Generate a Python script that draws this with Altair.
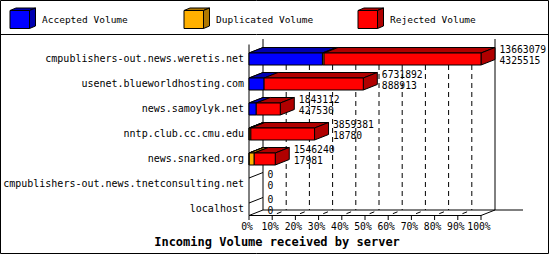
import altair as alt
import pandas as pd

# ---------------- data ----------------
servers = [
    "cmpublishers-out.news.weretis.net",
    "usenet.blueworldhosting.com",
    "news.samoylyk.net",
    "nntp.club.cc.cmu.edu",
    "news.snarked.org",
    "cmpublishers-out.news.tnetconsulting.net",
    "localhost",
]
total_volume = [13663079, 6731892, 1843112, 3859381, 1546240, 0, 0]
accepted_volume = [4325515, 888913, 427530, 18780, 17981, 0, 0]
duplicated_volume = [95000, 0, 0, 90000, 290000, 0, 0]

series_names = ["Accepted Volume", "Duplicated Volume", "Rejected Volume"]
front_colors = ["#0000FF", "#FFB000", "#FF0000"]
dark_colors = ["#0000B0", "#B07800", "#B00000"]

tick_pcts = [0, 10, 20, 30, 40, 50, 60, 70, 80, 90, 100]
tick_labels = ["0%", "10%", "20%", "30%", "40%", "50%", "60%", "70%", "80%", "90%", "100%"]
title_text = "Incoming Volume received by server"

# ---------------- layout (pixels) ----------------
W, H = 550, 255
X0_PX, PX_PER_PCT = 249, 2.32
Y0_PX, PX_PER_ROW = 59, 25
DEPTH_X_PX, DEPTH_Y_PX = 14, 5.5
BAR_HALF_PX = 6
WALL_TOP_BACK, FLOOR_BACK = 39, 210
WALL_TOP_FRONT, FLOOR_FRONT = WALL_TOP_BACK + DEPTH_Y_PX, FLOOR_BACK + DEPTH_Y_PX
GRID_TOP = 47
FONT = "DejaVu Sans Mono"


def px2x(p):
    return (p - X0_PX) / PX_PER_PCT


def py2y(p):
    return (p - Y0_PX) / PX_PER_ROW


DX = DEPTH_X_PX / PX_PER_PCT
DY = DEPTH_Y_PX / PX_PER_ROW
BH = BAR_HALF_PX / PX_PER_ROW

xs = alt.Scale(domain=[px2x(0), px2x(W)], nice=False, zero=False)
ys = alt.Scale(domain=[py2y(0), py2y(H)], nice=False, zero=False, reverse=True)


def X(f):
    return alt.X(f, type="quantitative", scale=xs, axis=None)


def Y(f):
    return alt.Y(f, type="quantitative", scale=ys, axis=None)


maxv = max(total_volume)

# bar segments
segs, tops, sides = [], [], []
for i in range(len(servers)):
    tot = total_volume[i]
    if tot <= 0:
        continue
    parts = [accepted_volume[i], duplicated_volume[i],
             tot - accepted_volume[i] - duplicated_volume[i]]
    cum = 0
    last = None
    for j, v in enumerate(parts):
        if v <= 0:
            continue
        a = cum / maxv * 100
        b = (cum + v) / maxv * 100
        cum += v
        sid = f"{i}-{j}"
        segs.append(dict(seg=sid, row=i, x0=a, x1=b, yt=i - BH, yb=i + BH,
                         front=front_colors[j], dark=dark_colors[j]))
        tops.append(dict(seg=sid, y=i - BH, xa=a, xb=b, dark=dark_colors[j]))
        tops.append(dict(seg=sid, y=i - BH - DY, xa=a + DX, xb=b + DX, dark=dark_colors[j]))
        last = (b, dark_colors[j])
    b, dc = last
    sides.append(dict(row=i, x=b, ya=i - BH, yb=i + BH, dark=dc))
    sides.append(dict(row=i, x=b + DX, ya=i - BH - DY, yb=i + BH - DY, dark=dc))

seg_df = pd.DataFrame(segs)
top_df = pd.DataFrame(tops)
side_df = pd.DataFrame(sides)

labels_df = pd.DataFrame({
    "server": servers,
    "row": list(range(len(servers))),
    "end": [t / maxv * 100 for t in total_volume],
    "l1": [str(t) for t in total_volume],
    "l2": [str(a) for a in accepted_volume],
})

# frame lines (solid)
yWTB, yWTF, yFB, yFF = py2y(WALL_TOP_BACK), py2y(WALL_TOP_FRONT), py2y(FLOOR_BACK), py2y(FLOOR_FRONT)
solid = [
    (0, yWTF, 0, yFF),
    (DX, yWTB, DX, yFB),
    (100 + DX, yWTB, 100 + DX, yFB),
    (0, yFF, 100, yFF),
    (DX, yFB, px2x(523), yFB),
    (0, yFF, DX, yFB),
    (100, yFF, 100 + DX, yFB),
]
for p in tick_pcts:
    solid.append((p, yFF, p, py2y(FLOOR_FRONT + 4.5)))
for i in range(len(servers)):
    solid.append((0, i - BH, DX, i - BH - DY))
solid_df = pd.DataFrame(solid, columns=["x", "y", "x2", "y2"])

grid_df = pd.DataFrame([(p + DX, py2y(GRID_TOP), p + DX, yFB) for p in tick_pcts[1:-1]],
                       columns=["x", "y", "x2", "y2"])
floor_df = pd.DataFrame([(p, yFF, p + DX, yFB) for p in tick_pcts[1:-1]],
                        columns=["x", "y", "x2", "y2"])
ticks_df = pd.DataFrame({"p": tick_pcts, "lab": tick_labels})

# legend cubes
LEG_X = [10, 184, 358]
LEG_W, LEG_T, LEG_B, LEG_DX, LEG_DY = 19.5, 10.5, 28.5, 6, 2.5
leg_front, leg_top, leg_side, leg_text = [], [], [], []
for j, name in enumerate(series_names):
    x0p = LEG_X[j]
    x1p = x0p + LEG_W
    leg_front.append(dict(k=j, x0=px2x(x0p), x1=px2x(x1p), yt=py2y(LEG_T), yb=py2y(LEG_B),
                          front=front_colors[j]))
    leg_top.append(dict(k=j, y=py2y(LEG_T), xa=px2x(x0p), xb=px2x(x1p), dark=dark_colors[j]))
    leg_top.append(dict(k=j, y=py2y(LEG_T - LEG_DY), xa=px2x(x0p + LEG_DX), xb=px2x(x1p + LEG_DX),
                        dark=dark_colors[j]))
    leg_side.append(dict(k=j, x=px2x(x1p), ya=py2y(LEG_T), yb=py2y(LEG_B), dark=dark_colors[j]))
    leg_side.append(dict(k=j, x=px2x(x1p + LEG_DX), ya=py2y(LEG_T - LEG_DY), yb=py2y(LEG_B - LEG_DY),
                         dark=dark_colors[j]))
    leg_text.append(dict(k=j, x=px2x(x0p + 32), y=py2y(20), name=name))

one = pd.DataFrame({"a": [0]})

# ---------------- layers ----------------
frame = alt.Chart(one).mark_rect(filled=False, stroke="black", strokeWidth=1).encode(
    x=alt.value(0.5), x2=alt.value(548.5), y=alt.value(0.5), y2=alt.value(253.5))
sep = alt.Chart(one).mark_rule(color="black", strokeWidth=1).encode(
    x=alt.value(0), x2=alt.value(549), y=alt.value(34.5))

solid_l = alt.Chart(solid_df).mark_rule(color="black", strokeWidth=1).encode(
    x=X("x"), y=Y("y"), x2="x2", y2="y2")
grid_l = alt.Chart(grid_df).mark_rule(color="black", strokeWidth=1, strokeDash=[5, 4]).encode(
    x=X("x"), y=Y("y"), x2="x2", y2="y2")
floor_l = alt.Chart(floor_df).mark_rule(color="black", strokeWidth=1, strokeDash=[5, 5],
                                         strokeDashOffset=5).encode(
    x=X("x"), y=Y("y"), x2="x2", y2="y2")

top_l = alt.Chart(top_df).mark_area(orient="horizontal", stroke="black", strokeWidth=1,
                                     interpolate="linear").encode(
    y=Y("y"), x=X("xa"), x2="xb", detail="seg:N", fill=alt.Fill("dark:N", scale=None))
side_l = alt.Chart(side_df).mark_area(orient="vertical", stroke="black", strokeWidth=1,
                                       interpolate="linear").encode(
    x=X("x"), y=Y("ya"), y2="yb", detail="row:N", fill=alt.Fill("dark:N", scale=None))
front_l = alt.Chart(seg_df).mark_rect(stroke="black", strokeWidth=1).encode(
    x=X("x0"), x2="x1", y=Y("yt"), y2="yb", fill=alt.Fill("front:N", scale=None))

cat_l = alt.Chart(labels_df).mark_text(align="right", baseline="middle", font=FONT,
                                       fontSize=10, color="black").encode(
    x=alt.value(244), y=Y("row"), text="server:N")
v1_l = alt.Chart(labels_df).mark_text(align="left", baseline="middle", font=FONT, fontSize=9.7,
                                      color="black", dx=18.5, dy=-9.5).encode(
    x=X("end"), y=Y("row"), text="l1:N")
v2_l = alt.Chart(labels_df).mark_text(align="left", baseline="middle", font=FONT, fontSize=9.7,
                                      color="black", dx=18.5, dy=1.5).encode(
    x=X("end"), y=Y("row"), text="l2:N")

tick_l = alt.Chart(ticks_df).mark_text(align="center", baseline="middle", font=FONT, fontSize=9.7,
                                       color="black", dx=-2).encode(
    x=X("p"), y=alt.value(227), text="lab:N")
title_l = alt.Chart(one).mark_text(text=title_text, align="center", baseline="middle", font=FONT,
                                   fontSize=12, fontWeight="bold", color="black").encode(
    x=alt.value(277), y=alt.value(242))

lf_l = alt.Chart(pd.DataFrame(leg_front)).mark_rect(stroke="black", strokeWidth=1).encode(
    x=X("x0"), x2="x1", y=Y("yt"), y2="yb", fill=alt.Fill("front:N", scale=None))
lt_l = alt.Chart(pd.DataFrame(leg_top)).mark_area(orient="horizontal", stroke="black",
                                                   strokeWidth=1).encode(
    y=Y("y"), x=X("xa"), x2="xb", detail="k:N", fill=alt.Fill("dark:N", scale=None))
ls_l = alt.Chart(pd.DataFrame(leg_side)).mark_area(orient="vertical", stroke="black",
                                                    strokeWidth=1).encode(
    x=X("x"), y=Y("ya"), y2="yb", detail="k:N", fill=alt.Fill("dark:N", scale=None))
ltx_l = alt.Chart(pd.DataFrame(leg_text)).mark_text(align="left", baseline="middle", font=FONT,
                                                     fontSize=9.5, color="black").encode(
    x=X("x"), y=Y("y"), text="name:N")

chart = alt.layer(
    frame, sep, solid_l, grid_l, floor_l,
    top_l, side_l, front_l,
    cat_l, v1_l, v2_l, tick_l, title_l,
    lt_l, ls_l, lf_l, ltx_l,
).properties(
    width=W, height=H, padding=0,
    autosize=alt.AutoSizeParams(type="none"),
    background="white",
).configure_view(stroke=None)

chart.save("out.html", embed_options={"renderer": "svg", "actions": False})
